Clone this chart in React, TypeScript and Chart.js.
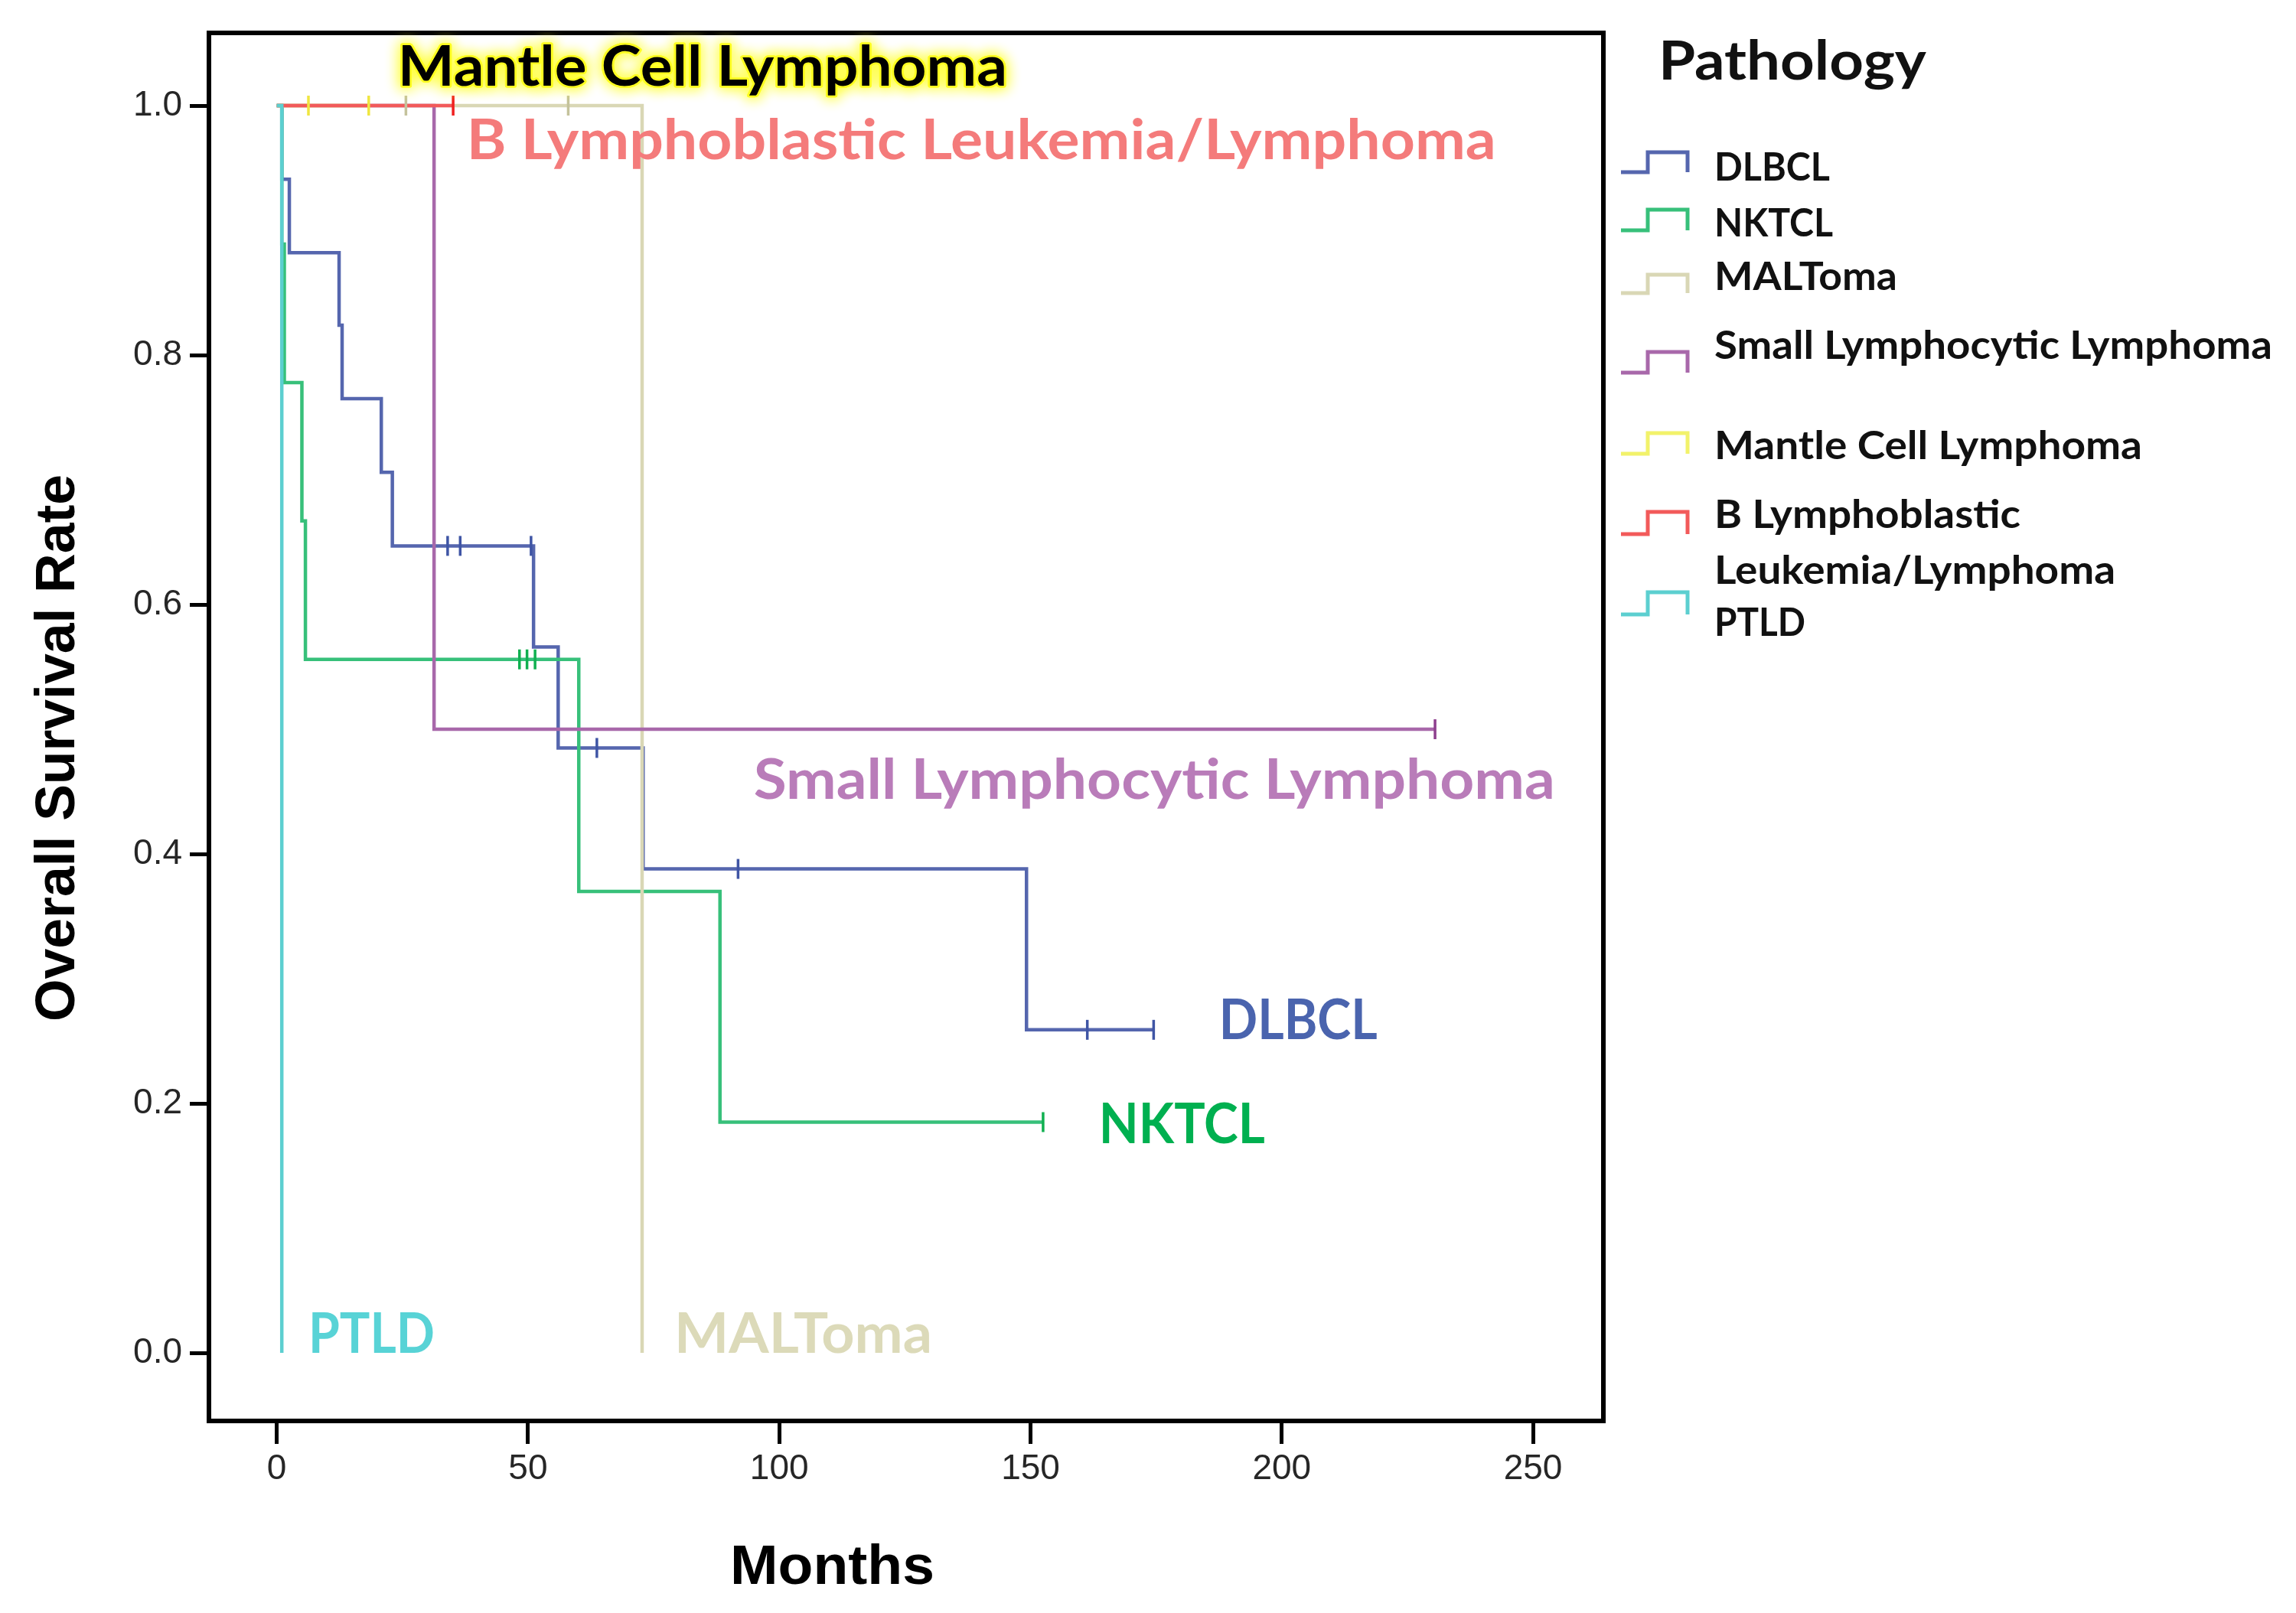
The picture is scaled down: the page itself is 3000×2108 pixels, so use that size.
import React, { useEffect, useRef } from 'react';
import { Chart, registerables } from 'chart.js';

Chart.register(...registerables);

// ---------- data ----------
const groupNames = [
  'DLBCL',
  'NKTCL',
  'MALToma',
  'Small Lymphocytic Lymphoma',
  'Mantle Cell Lymphoma',
  'B Lymphoblastic Leukemia/Lymphoma',
  'PTLD',
];

const dlbclTimes = [0, 1, 2.5, 12.4, 13, 20.8, 23, 51.1, 56, 72.9, 149.2, 174.5];
const dlbclSurv = [1, 0.941, 0.882, 0.824, 0.765, 0.706, 0.647, 0.566, 0.485, 0.388, 0.259, 0.259];
const dlbclCensorTimes = [34, 36.5, 50.6, 63.7, 91.8, 161.3, 174.5];
const dlbclCensorSurv = [0.647, 0.647, 0.647, 0.485, 0.388, 0.259, 0.259];

const nktclTimes = [0, 1, 1.5, 5.0, 5.7, 60.1, 88.2, 152.5];
const nktclSurv = [1, 0.889, 0.778, 0.667, 0.556, 0.37, 0.185, 0.185];
const nktclCensorTimes = [48.3, 49.8, 51.4, 152.5];
const nktclCensorSurv = [0.556, 0.556, 0.556, 0.185];

const maltTimes = [0, 72.7];
const maltSurv = [1, 0];
const maltCensorTimes = [25.7, 58];
const maltCensorSurv = [1, 1];

const sllTimes = [0, 31.3, 230.5];
const sllSurv = [1, 0.5, 0.5];
const sllCensorTimes = [230.5];
const sllCensorSurv = [0.5];

const mclTimes = [0, 18.3];
const mclSurv = [1, 1];
const mclCensorTimes = [6.3, 18.3];
const mclCensorSurv = [1, 1];

const blTimes = [0, 35.1];
const blSurv = [1, 1];
const blCensorTimes = [35.1];
const blCensorSurv = [1];

const ptldTimes = [0, 1.0];
const ptldSurv = [1, 0];
const ptldCensorTimes: number[] = [];
const ptldCensorSurv: number[] = [];

const xTickValues = [0, 50, 100, 150, 200, 250];
const yTickValues = [0, 0.2, 0.4, 0.6, 0.8, 1.0];

const xTitle = 'Months';
const yTitle = 'Overall Survival Rate';
const legendTitle = 'Pathology';
const legendLines = [
  ['DLBCL'],
  ['NKTCL'],
  ['MALToma'],
  ['Small Lymphocytic Lymphoma'],
  ['Mantle Cell Lymphoma'],
  ['B Lymphoblastic', 'Leukemia/Lymphoma'],
  ['PTLD'],
];

// ---------- styles ----------
const lineColors = ['#5566ae', '#37c07a', '#d9d7b5', '#a868aa', '#f2f26a', '#f25a5a', '#5ccfd0'];
const censorColors = ['#3f55a5', '#10b050', '#c4c29c', '#8e3f8e', '#efe640', '#f02020', '#5ccfd0'];
const annotColors = ['#4a64ae', '#00b050', '#dcdab9', '#b97cb9', '#000000', '#f47b7b', '#58d3d6'];

// annotation anchors in data units (x months, y survival), width/cap in px
const annotX = [187.5, 163.6, 79.1, 94.9, 24.1, 37.8, 6.3];
const annotY = [0.2515, 0.168, 0.0, 0.444, 1.016, 0.957, 0.0];
const annotW = [207, 217, 337, 1047, 796, 1345, 165];
const annotCap = 52;

// legend layout (px)
const legendTitlePos = { left: 2167, baseline: 104, width: 350, cap: 51 };
const legendLabelLeft = 2240;
const legendBaselines = [[236], [309], [379], [469], [600], [690, 763], [831]];
const legendWidths = [[151], [155], [239], [729], [559], [400, 524], [119]];
const legendIconY = [[199, 225], [274, 301], [359, 383], [460, 487], [566, 593], [669, 698], [774, 803]];
const legendIconX = [2118, 2153, 2205];

const series = [
  [dlbclTimes, dlbclSurv, dlbclCensorTimes, dlbclCensorSurv],
  [nktclTimes, nktclSurv, nktclCensorTimes, nktclCensorSurv],
  [maltTimes, maltSurv, maltCensorTimes, maltCensorSurv],
  [sllTimes, sllSurv, sllCensorTimes, sllCensorSurv],
  [mclTimes, mclSurv, mclCensorTimes, mclCensorSurv],
  [blTimes, blSurv, blCensorTimes, blCensorSurv],
  [ptldTimes, ptldSurv, ptldCensorTimes, ptldCensorSurv],
] as number[][][];

const CAL = 'Lato, "Open Sans", sans-serif';
const ARIAL = '"Liberation Sans", Arial, sans-serif';

function drawFitted(
  ctx: CanvasRenderingContext2D,
  text: string,
  left: number,
  baseline: number,
  width: number,
  cap: number,
  family: string,
  capRatio: number,
  color: string,
  glow?: string
) {
  const size = cap / capRatio;
  ctx.save();
  ctx.font = `bold ${size}px ${family}`;
  const w = ctx.measureText(text).width;
  ctx.translate(left, baseline);
  ctx.scale(width / w, 1);
  ctx.textAlign = 'left';
  ctx.textBaseline = 'alphabetic';
  if (glow) {
    ctx.save();
    ctx.shadowColor = glow;
    ctx.shadowBlur = 18;
    ctx.strokeStyle = glow;
    ctx.lineWidth = 5;
    ctx.lineJoin = 'round';
    ctx.strokeText(text, 0, 0);
    ctx.strokeText(text, 0, 0);
    ctx.restore();
  }
  ctx.fillStyle = color;
  ctx.fillText(text, 0, 0);
  ctx.restore();
}

const framePlugin = {
  id: 'kmFrame',
  afterDatasetsDraw(chart: any) {
    const { ctx, chartArea } = chart;
    ctx.save();
    ctx.strokeStyle = '#000';
    ctx.lineWidth = 6;
    ctx.strokeRect(chartArea.left, chartArea.top, chartArea.right - chartArea.left, chartArea.bottom - chartArea.top);
    ctx.restore();
  },
};

const textPlugin = {
  id: 'kmTexts',
  afterDraw(chart: any) {
    const { ctx } = chart;
    const xs = chart.scales.x;
    const ys = chart.scales.y;
    // annotations
    groupNames.forEach((name, i) => {
      const left = xs.getPixelForValue(annotX[i]);
      const base = ys.getPixelForValue(annotY[i]);
      drawFitted(ctx, name, left, base, annotW[i], annotCap, CAL, 0.7165, annotColors[i], i === 4 ? '#ffff20' : undefined);
    });
    // legend
    drawFitted(ctx, legendTitle, legendTitlePos.left, legendTitlePos.baseline, legendTitlePos.width, legendTitlePos.cap, CAL, 0.7165, '#111');
    legendLines.forEach((lines, i) => {
      lines.forEach((t, j) => {
        drawFitted(ctx, t, legendLabelLeft, legendBaselines[i][j], legendWidths[i][j], 36.5, CAL, 0.7165, '#111');
      });
      const [yHi, yLo] = legendIconY[i];
      ctx.save();
      ctx.strokeStyle = lineColors[i];
      ctx.lineWidth = 5;
      ctx.beginPath();
      ctx.moveTo(legendIconX[0], yLo);
      ctx.lineTo(legendIconX[1], yLo);
      ctx.lineTo(legendIconX[1], yHi);
      ctx.lineTo(legendIconX[2], yHi);
      ctx.lineTo(legendIconX[2], yLo);
      ctx.stroke();
      ctx.restore();
    });
    // axis titles
    drawFitted(ctx, xTitle, 954, 2070, 267, 52, ARIAL, 0.716, '#000');
    ctx.save();
    ctx.translate(97, 1335);
    ctx.rotate(-Math.PI / 2);
    drawFitted(ctx, yTitle, 0, 0, 715, 52, ARIAL, 0.716, '#000');
    ctx.restore();
  },
};

export default function App() {
  const ref = useRef<HTMLCanvasElement>(null);
  useEffect(() => {
    const canvas = ref.current;
    if (!canvas) return;
    const datasets: any[] = [];
    series.forEach((s, i) => {
      const [times, surv] = s;
      datasets.push({
        type: 'line',
        label: groupNames[i],
        data: times.map((t, k) => ({ x: t, y: surv[k] })),
        stepped: 'before',
        borderColor: lineColors[i],
        borderWidth: 4.5,
        pointRadius: 0,
        pointHoverRadius: 0,
        fill: false,
        tension: 0,
        order: 100 - i,
      });
    });
    series.forEach((s, i) => {
      const [, , ct, cs] = s;
      if (!ct.length) return;
      datasets.push({
        type: 'line',
        label: groupNames[i] + ' censored',
        data: ct.map((t, k) => ({ x: t, y: cs[k] })),
        showLine: false,
        pointStyle: 'line',
        pointRotation: 90,
        pointRadius: 13,
        pointHoverRadius: 13,
        pointBorderWidth: 3.5,
        pointBorderColor: censorColors[i],
        borderColor: censorColors[i],
        order: 50 - i,
      });
    });

    const chart = new Chart(canvas, {
      type: 'line',
      data: { datasets },
      options: {
        animation: false,
        responsive: false,
        devicePixelRatio: 1,
        layout: { padding: { left: 0, top: 43, right: 905, bottom: 0 } },
        plugins: { legend: { display: false }, tooltip: { enabled: false }, title: { display: false } },
        events: [],
        scales: {
          x: {
            type: 'linear',
            min: -13.5,
            max: 264,
            afterBuildTicks: (sc: any) => {
              sc.ticks = xTickValues.map((v) => ({ value: v }));
            },
            afterFit: (sc: any) => {
              sc.height = 251;
            },
            ticks: {
              autoSkip: false,
              maxRotation: 0,
              minRotation: 0,
              padding: 6,
              color: '#262626',
              font: { family: ARIAL, size: 46 },
              callback: (v: any) => String(v),
            },
            grid: { drawOnChartArea: false, drawTicks: true, tickLength: 30, tickWidth: 5, tickColor: '#000' },
            border: { display: false },
          },
          y: {
            type: 'linear',
            min: -0.0546,
            max: 1.0583,
            afterBuildTicks: (sc: any) => {
              sc.ticks = yTickValues.map((v) => ({ value: v }));
            },
            afterFit: (sc: any) => {
              sc.width = 273;
            },
            ticks: {
              autoSkip: false,
              padding: 10,
              color: '#262626',
              font: { family: ARIAL, size: 46 },
              callback: (v: any) => Number(v).toFixed(1),
            },
            grid: { drawOnChartArea: false, drawTicks: true, tickLength: 25, tickWidth: 5, tickColor: '#000' },
            border: { display: false },
          },
        },
      } as any,
      plugins: [framePlugin, textPlugin],
    });
    return () => chart.destroy();
  }, []);

  return (
    <div style={{ position: 'fixed', left: 0, top: 0, width: 3000, height: 2108, background: '#fff' }}>
      <canvas ref={ref} width={3000} height={2108} style={{ width: '3000px', height: '2108px', display: 'block' }} />
    </div>
  );
}
